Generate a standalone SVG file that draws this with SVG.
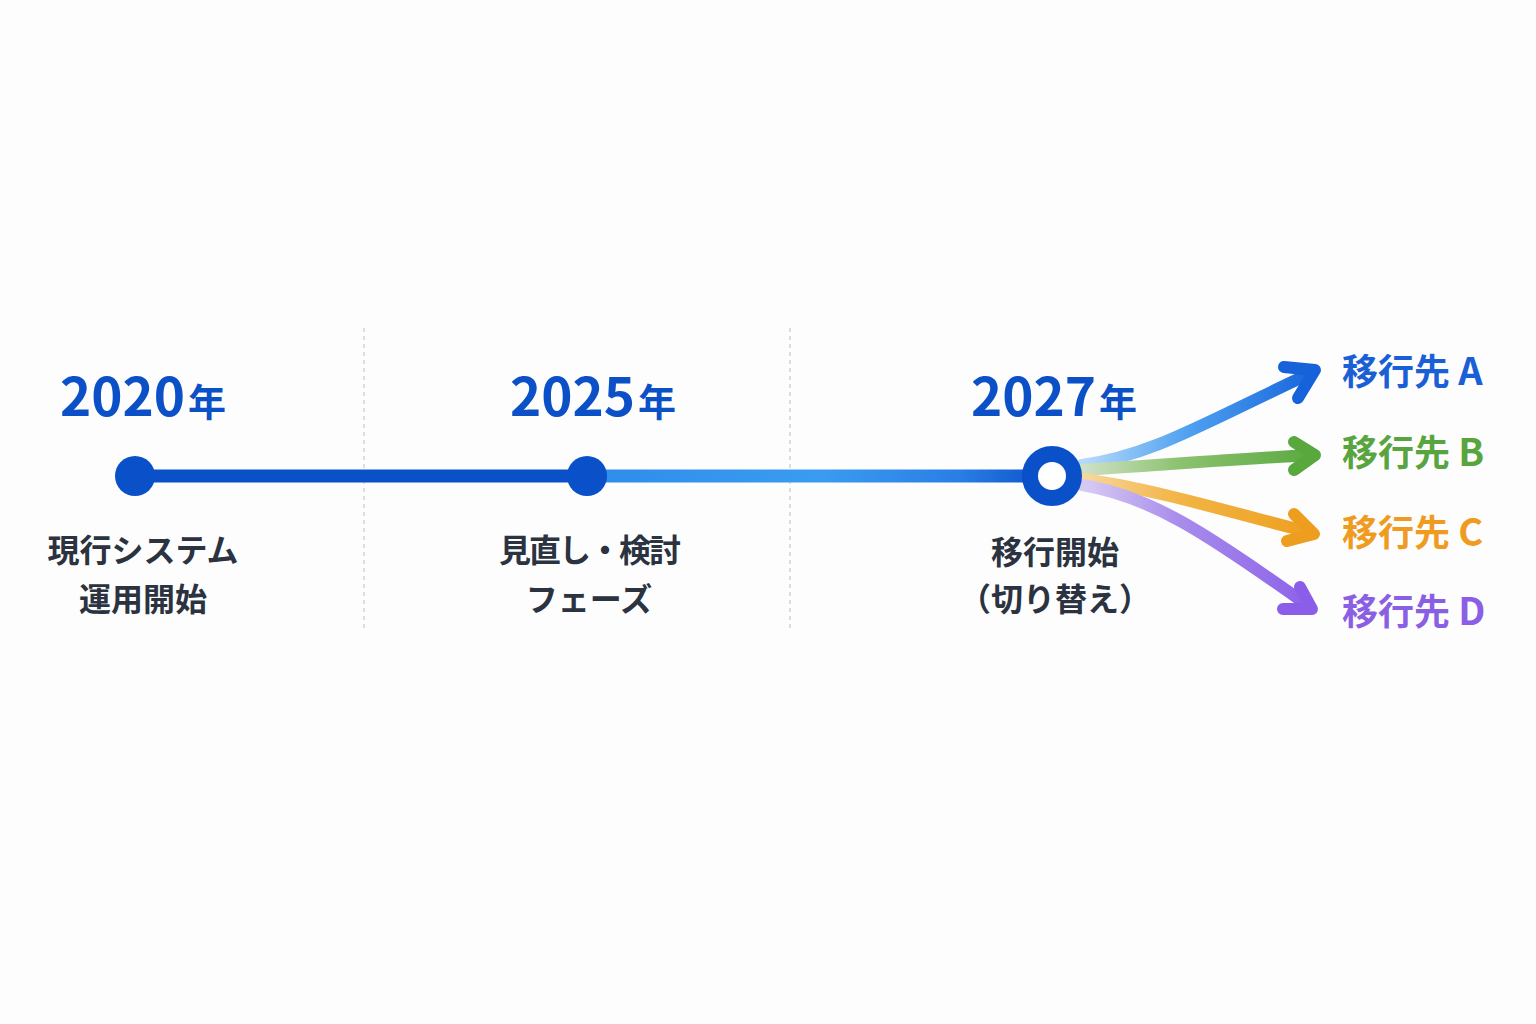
<svg xmlns="http://www.w3.org/2000/svg" width="1536" height="1024" viewBox="0 0 1536 1024">
<style>
.yr{font-family:"Noto Sans CJK JP","Noto Sans",sans-serif;font-weight:700;fill:#0b50c6;text-anchor:middle}
.yr .n{font-size:53px}
.yr .k{font-size:38px}
.lbl{font-family:"Noto Sans CJK JP","Noto Sans",sans-serif;font-weight:600;font-size:32px;fill:#2b3240;text-anchor:middle}
.dest{font-family:"Noto Sans CJK JP","Noto Sans",sans-serif;font-weight:600;font-size:36px}
.arr{fill:none;stroke-width:12;stroke-linecap:round;stroke-linejoin:round}
.div{stroke:#d4d7db;stroke-width:1.6;stroke-dasharray:4 4}
</style>
<defs>
<linearGradient id="gLine" gradientUnits="userSpaceOnUse" x1="587" y1="0" x2="1052" y2="0">
<stop offset="0" stop-color="#2e8cec"/>
<stop offset="0.5" stop-color="#3a9cf0"/>
<stop offset="0.8" stop-color="#2a7ee6"/>
<stop offset="1" stop-color="#0a50c8"/>
</linearGradient>
<linearGradient id="gA" gradientUnits="userSpaceOnUse" x1="1085" y1="0" x2="1320" y2="0">
<stop offset="0" stop-color="#b4d9fa"/>
<stop offset="0.45" stop-color="#4d9ff0"/>
<stop offset="1" stop-color="#1562da"/>
</linearGradient>
<linearGradient id="gB" gradientUnits="userSpaceOnUse" x1="1085" y1="0" x2="1320" y2="0">
<stop offset="0" stop-color="#cfe0c4"/>
<stop offset="0.4" stop-color="#8cc270"/>
<stop offset="1" stop-color="#58a83e"/>
</linearGradient>
<linearGradient id="gC" gradientUnits="userSpaceOnUse" x1="1085" y1="0" x2="1320" y2="0">
<stop offset="0" stop-color="#f7d79a"/>
<stop offset="0.4" stop-color="#f2b445"/>
<stop offset="1" stop-color="#ee9e1e"/>
</linearGradient>
<linearGradient id="gD" gradientUnits="userSpaceOnUse" x1="1085" y1="0" x2="1320" y2="0">
<stop offset="0" stop-color="#d6caf4"/>
<stop offset="0.4" stop-color="#a88cec"/>
<stop offset="1" stop-color="#8a5ee8"/>
</linearGradient>
</defs>
<rect width="1536" height="1024" fill="#fdfdfd"/>
<g id="dividers">
<line class="div" x1="364" y1="328" x2="364" y2="628"/>
<line class="div" x1="790" y1="328" x2="790" y2="628"/>
</g>
<g id="connectors">
<line x1="135" y1="476" x2="587" y2="476" stroke="#0a50c8" stroke-width="13"/>
<line x1="587" y1="476" x2="1052" y2="476" stroke="url(#gLine)" stroke-width="13"/>
<g id="arrowA">
<path class="arr" stroke="url(#gA)" d="M1082,465 C1150,456 1200,425 1311,373"/>
<path class="arr" stroke="#1562da" d="M1284,367 L1315,370 L1298,398"/>
</g>
<g id="arrowB">
<path class="arr" stroke="url(#gB)" d="M1082,470 C1150,466 1220,460 1312,455"/>
<path class="arr" stroke="#58a83e" d="M1294,442 L1315,455 L1294,470"/>
</g>
<g id="arrowC">
<path class="arr" stroke="url(#gC)" d="M1082,479 C1150,488 1230,512 1312,533"/>
<path class="arr" stroke="#ee9e1e" d="M1294,514 L1314,534 L1287,541"/>
</g>
<g id="arrowD">
<path class="arr" stroke="url(#gD)" d="M1082,485 C1150,496 1205,532 1310,607"/>
<path class="arr" stroke="#8a5ee8" d="M1300,587 L1312,609 L1283,609"/>
</g>
</g>
<g id="node2020">
<circle cx="135" cy="476" r="20" fill="#0a50c8"/>
<text class="yr" x="143" y="416"><tspan class="n">2020</tspan><tspan class="k" dx="3">年</tspan></text>
<text class="lbl" x="143" y="562">現行システム</text>
<text class="lbl" x="143" y="611">運用開始</text>
</g>
<g id="node2025">
<circle cx="587" cy="476" r="20" fill="#0a50c8"/>
<text class="yr" x="593" y="416"><tspan class="n">2025</tspan><tspan class="k" dx="3">年</tspan></text>
<text class="lbl" x="589" y="562" letter-spacing="-2">見直し・検討</text>
<text class="lbl" x="589" y="611">フェーズ</text>
</g>
<g id="node2027">
<circle cx="1052" cy="476" r="22" fill="#ffffff" stroke="#0a50c8" stroke-width="16"/>
<text class="yr" x="1054" y="416"><tspan class="n">2027</tspan><tspan class="k" dx="3">年</tspan></text>
<text class="lbl" x="1055" y="564">移行開始</text>
<text class="lbl" x="1055" y="611">（切り替え）</text>
</g>
<g id="destA"><text class="dest" x="1342" y="385" fill="#1a5fd6">移行先 <tspan font-size="38">A</tspan></text></g>
<g id="destB"><text class="dest" x="1342" y="466" fill="#58a540">移行先 <tspan font-size="38">B</tspan></text></g>
<g id="destC"><text class="dest" x="1342" y="546" fill="#ef9b20">移行先 <tspan font-size="38">C</tspan></text></g>
<g id="destD"><text class="dest" x="1342" y="625" fill="#8b5fe3">移行先 <tspan font-size="38">D</tspan></text></g>
</svg>
